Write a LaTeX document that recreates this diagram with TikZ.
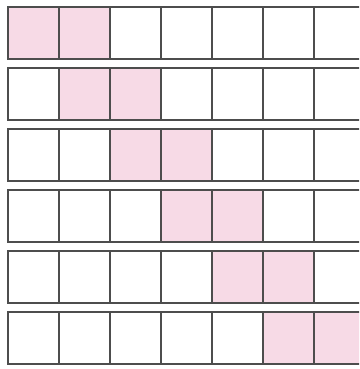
\documentclass[tikz,border=0pt]{standalone}
\usepackage{tikz}
\usepackage{xcolor}
\usetikzlibrary{positioning}
\definecolor{gridink}{HTML}{4D4D4D}
\definecolor{shadepink}{HTML}{F7DAE6}
\tikzset{
  slot/.style={draw=gridink,fill=white,line width=1.4pt,
               minimum width=51pt,minimum height=52pt,
               inner sep=0pt,outer sep=0pt},
  hotslot/.style={slot,fill=shadepink}
}

\begin{document}
\begin{tikzpicture}[x=1pt,y=1pt]
  \useasboundingbox (0,0) rectangle (359,369);
  \clip (0,0) rectangle (359,369);
  % six strips, the shaded pair moves one step right per strip
  \foreach \r in {0,...,5}{
    \foreach \c in {0,...,6}{
      \pgfmathtruncatemacro{\dc}{\c-\r}
      \ifnum\dc<0 \def\kind{slot}\else\ifnum\dc>1 \def\kind{slot}\else\def\kind{hotslot}\fi\fi
      \node[\kind] (cell-\r-\c) at ({33.5+51*\c},{336-61*\r}) {};
    }
  }
\end{tikzpicture}
\end{document}
